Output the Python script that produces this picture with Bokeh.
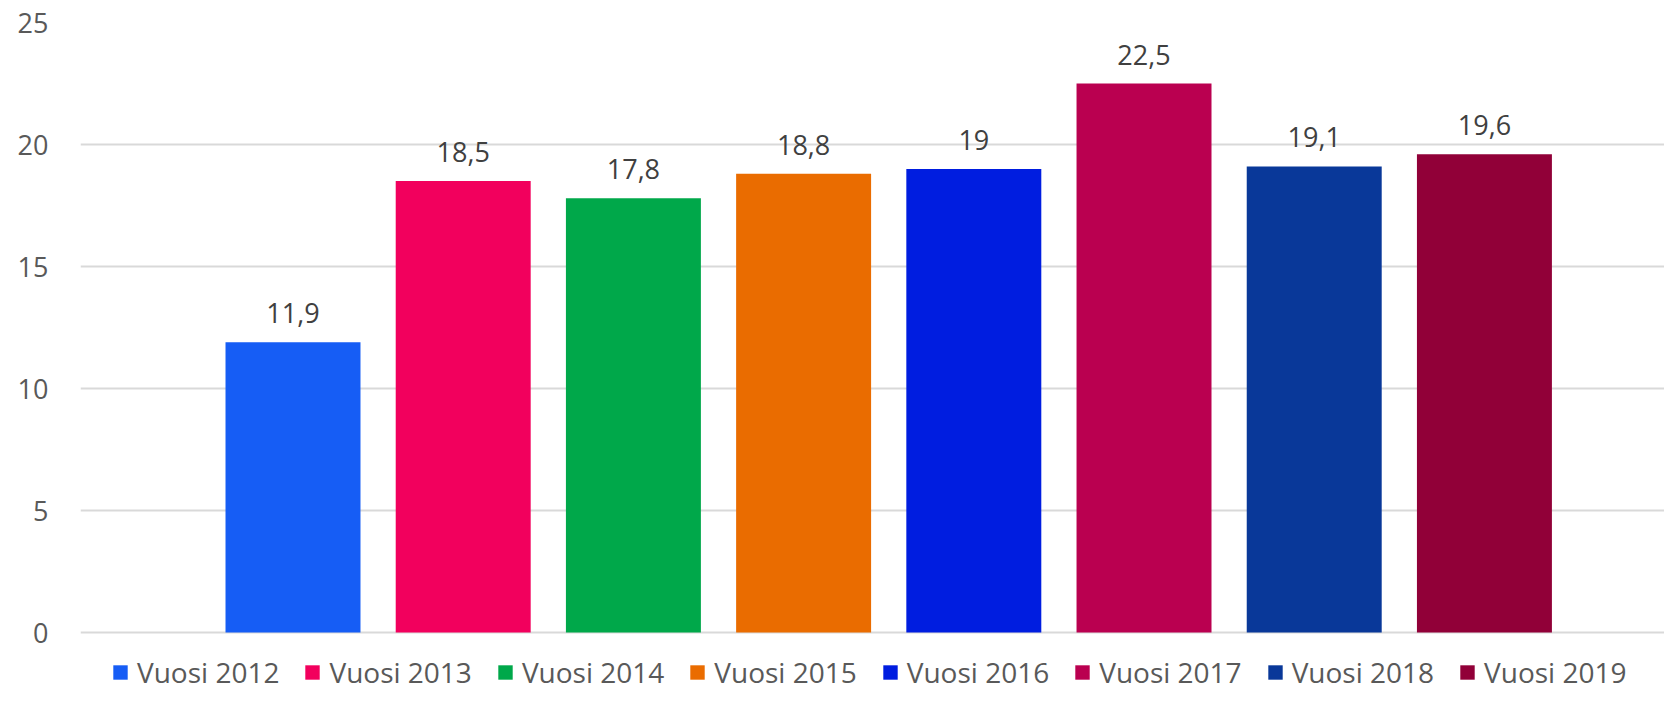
from bokeh.plotting import figure
from bokeh.models import ColumnDataSource, LabelSet, Legend, LegendItem, Range1d, FixedTicker
from bokeh.core.properties import value
from bokeh.embed import file_html
from bokeh.resources import INLINE

# ---- data ----
series = ["Vuosi 2012", "Vuosi 2013", "Vuosi 2014", "Vuosi 2015",
          "Vuosi 2016", "Vuosi 2017", "Vuosi 2018", "Vuosi 2019"]
values = [11.9, 18.5, 17.8, 18.8, 19.0, 22.5, 19.1, 19.6]
colors = ["#165DF5", "#F2005D", "#00A84A", "#EA6C00",
          "#001DE0", "#BA0050", "#093899", "#910038"]
y_ticks = [0, 5, 10, 15, 20, 25]

def fmt(v):
    s = ("%.1f" % v).rstrip("0").rstrip(".")
    return s.replace(".", ",")

xs = list(range(1, len(series) + 1))
src = ColumnDataSource(dict(x=xs, top=values, label=[fmt(v) for v in values]))

FONT = "Open Sans"

p = figure(width=1664, height=691, output_backend="svg", toolbar_location=None,
           x_range=Range1d(-0.2485, 9.058), y_range=Range1d(-2.418, 25),
           min_border_left=80, min_border_right=0, min_border_top=22,
           min_border_bottom=0)
p.outline_line_color = None
p.background_fill_color = "white"
p.border_fill_color = "white"

items = []
for i in range(len(series)):
    r = p.vbar(x=[xs[i]], top=[values[i]], width=0.793, bottom=0,
               fill_color=colors[i], line_color=None)
    items.append(LegendItem(label=series[i], renderers=[r]))

labels = LabelSet(x="x", y="top", text="label", source=src,
                  text_align="center", text_baseline="alphabetic", y_offset=19,
                  text_font=value(FONT), text_font_size="27px", text_color="#404040")
p.add_layout(labels)

p.xaxis.visible = False
p.xgrid.grid_line_color = None
p.ygrid.grid_line_color = "#D9D9D9"
p.ygrid.grid_line_width = 2
p.ygrid.ticker = FixedTicker(ticks=y_ticks)

yax = p.yaxis[0]
yax.ticker = FixedTicker(ticks=y_ticks)
yax.axis_line_color = None
yax.major_tick_line_color = None
yax.minor_tick_line_color = None
yax.major_tick_out = 0
yax.major_tick_in = 0
yax.major_label_standoff = 32
yax.major_label_text_font = FONT
yax.major_label_text_font_size = "27px"
yax.major_label_text_color = "#595959"

legend = Legend(items=items, orientation="horizontal", location=(31, 0),
                glyph_width=18, glyph_height=18, label_height=18,
                label_standoff=8, spacing=24, padding=0, margin=0,
                border_line_color=None, background_fill_alpha=0,
                label_text_font=FONT, label_text_font_size="28px",
                label_text_color="#595959", label_text_baseline="middle")
p.add_layout(legend, "center")

open("out.html", "w").write(file_html(p, INLINE))
